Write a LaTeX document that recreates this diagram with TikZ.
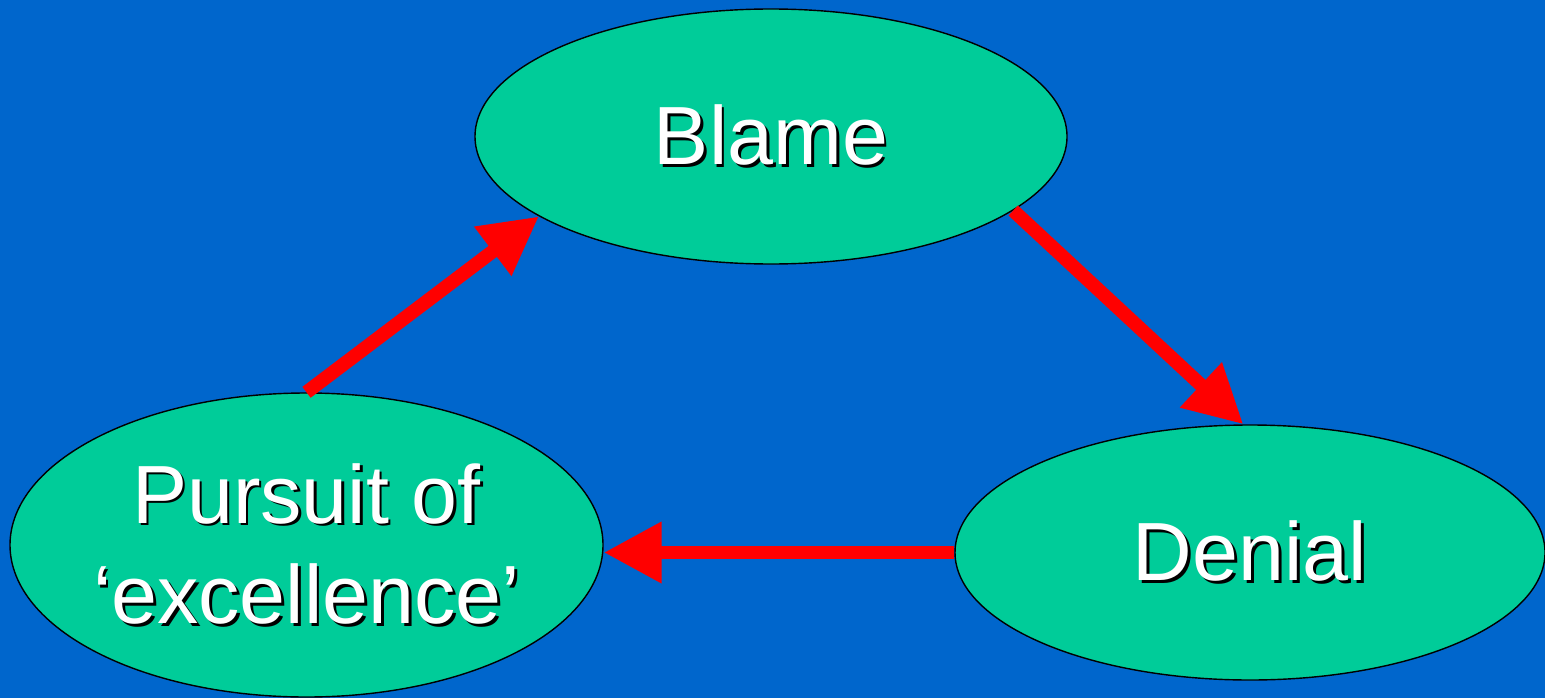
\documentclass[tikz,border=0pt]{standalone}
\usepackage{fontspec}
\setmainfont{Liberation Sans}
\usepackage{tikz}
\usetikzlibrary{arrows.meta,shapes.geometric,positioning}

\definecolor{slideblue}{RGB}{0,102,204}
\definecolor{bubblegreen}{RGB}{0,204,153}
\definecolor{arrowred}{RGB}{255,0,0}

% white text with a black drop shadow, centred in a fixed width
\newcommand{\shtext}[1]{\makebox[7.5cm]{\makebox[0pt][l]{\kern1.6pt\raisebox{-1.6pt}{\color{black}#1}}\color{white}#1}}

\tikzset{
	bubble/.style={shape=ellipse, draw=black, line width=0.8pt, fill=bubblegreen,
		inner sep=0pt, align=center, font=\fontsize{47}{57}\selectfont},
	cyclearrow/.style={draw=arrowred, line width=7.8pt,
		-{Triangle[length=33pt,width=33pt]}}
}

\begin{document}
\begin{tikzpicture}
	\fill[slideblue] (0,0) rectangle (30.9,13.96);
	\useasboundingbox (0,0) rectangle (30.9,13.96);
	\path (15.42,11.23) node (blame) [bubble, minimum width=11.84cm, minimum height=5.1cm] {\shtext{Blame}}
		  (6.13,3.06) node (pursuit) [bubble, minimum width=11.86cm, minimum height=6.08cm] {\shtext{Pursuit of}\\\shtext{‘excellence’}}
		  (25.0,2.91) node (denial) [bubble, minimum width=11.8cm, minimum height=5.1cm] {\shtext{Denial}};
	\draw[cyclearrow] (pursuit.north) -- (blame.199);
	\draw[cyclearrow] (blame.343) -- (denial.93);
	\draw[cyclearrow] (denial.west) -- (denial.west -| pursuit.east);
\end{tikzpicture}
\end{document}
